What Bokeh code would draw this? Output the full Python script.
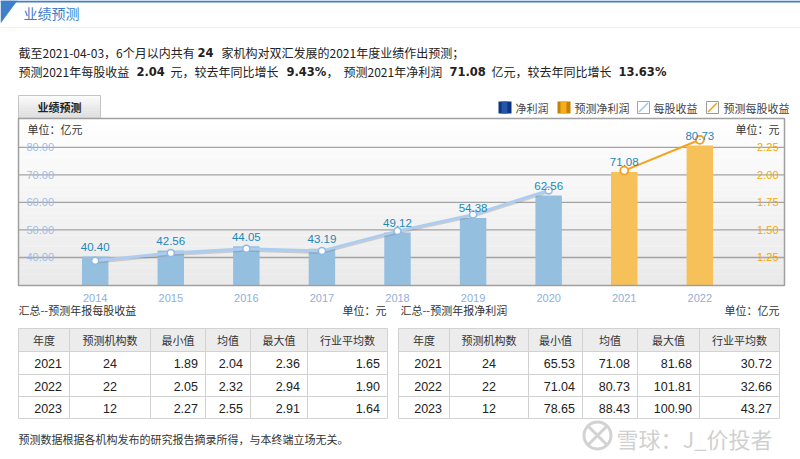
import numpy as np
from bokeh.plotting import figure
from bokeh.models import Range1d
from bokeh.core.properties import value
from bokeh.embed import file_html
from bokeh.resources import INLINE

# ---------------- data ----------------
years = [2014, 2015, 2016, 2017, 2018, 2019, 2020, 2021, 2022]
net_profit = [40.40, 42.56, 44.05, 43.19, 49.12, 54.38, 62.56, 71.08, 80.73]
eps = [1.22, 1.29, 1.33, 1.31, 1.49, 1.64, 1.86, 2.04, 2.32]
n_hist = 7  # 2014-2020 actual, 2021-2022 forecast
profit_ticks = [40, 50, 60, 70, 80]
eps_ticks = [1.25, 1.50, 1.75, 2.00, 2.25]

summary_orgs = 24
summary_eps = 2.04
summary_eps_growth = 9.43
summary_np = 71.08
summary_np_growth = 13.63

table_head = ["年度", "预测机构数", "最小值", "均值", "最大值", "行业平均数"]
fc_years = ["2021", "2022", "2023"]
eps_count = [24, 22, 12]
eps_min = [1.89, 2.05, 2.27]
eps_mean = [2.04, 2.32, 2.55]
eps_max = [2.36, 2.94, 2.91]
eps_ind = [1.65, 1.90, 1.64]
np_count = [24, 22, 12]
np_min = [65.53, 71.04, 78.65]
np_mean = [71.08, 80.73, 88.43]
np_max = [81.68, 101.81, 100.90]
np_ind = [30.72, 32.66, 43.27]

# ---------------- styles ----------------
CJK = value("Noto Sans CJK SC")
NUM = value("Liberation Sans")
BOLDF = value("DejaVu Sans")
TXT = "#222222"

W, H = 800, 459
p = figure(width=W, height=H, x_range=Range1d(0, W), y_range=Range1d(H, 0),
           output_backend="svg", toolbar_location=None, x_axis_type=None, y_axis_type=None,
           min_border=0, min_border_left=0, min_border_right=0, min_border_top=0, min_border_bottom=0,
           outline_line_color=None, background_fill_color="white", border_fill_color="white")


def txt(x, y, s, size="12px", color=TXT, font=CJK, align="left", style="normal", base="middle"):
    p.text(x=[x], y=[y], text=[s], text_font=font, text_font_size=size, text_color=color,
           text_align=align, text_baseline=base, text_font_style=style)


# ---------------- header ----------------
p.segment(x0=[0], x1=[800], y0=[1], y1=[1], line_color="#3f7fc8", line_width=2)
p.patch(x=[0, 17, 0], y=[0, 0, 23], fill_color="#3f7fc8", line_color=None)
txt(23, 12.5, "业绩预测", size="14px", color="#3d7dca")
p.segment(x0=[0], x1=[800], y0=[27], y1=[27], line_color="#f0f0f0", line_width=1)

# summary lines
txt(18, 52, "截至2021-04-03，6个月以内共有")
txt(197, 52, f"{summary_orgs}", size="11.5px", font=BOLDF, style="bold")
txt(221, 52, "家机构对双汇发展的2021年度业绩作出预测；")
txt(18, 71, "预测2021年每股收益")
txt(136, 71, f"{summary_eps:.2f}", size="11.5px", font=BOLDF, style="bold")
txt(170, 71, "元，较去年同比增长")
txt(286, 71, f"{summary_eps_growth:.2f}%", size="11.5px", font=BOLDF, style="bold")
txt(326, 71, "，")
txt(343, 71, "预测2021年净利润")
txt(449, 71, f"{summary_np:.2f}", size="11.5px", font=BOLDF, style="bold")
txt(491, 71, "亿元，较去年同比增长")
txt(618, 71, f"{summary_np_growth:.2f}%", size="11.5px", font=BOLDF, style="bold")

# tab button
tab_n = 12
tb = np.linspace(95, 118, tab_n + 1)
tab_cols = ["#%02x%02x%02x" % (int(c), int(c), int(c)) for c in np.linspace(252, 218, tab_n)]
p.quad(left=18, right=100, top=tb[:-1], bottom=tb[1:], fill_color=tab_cols, line_color=None)
p.quad(left=[18], right=[100], top=[95], bottom=[118], fill_color=None, line_color="#c4c4c4")
txt(59, 106.5, "业绩预测", size="11px", color="#222", align="center", style="bold")

# legend
p.quad(left=[498], right=[511], top=[101], bottom=[113], fill_color="#0d3482", line_color=None)
p.quad(left=[501], right=[507], top=[101], bottom=[113], fill_color="#2455a8", line_color=None)
txt(515, 107, "净利润", size="11px", color="#444")
p.quad(left=[557], right=[570], top=[101], bottom=[113], fill_color="#c88000", line_color=None)
p.quad(left=[560], right=[566], top=[101], bottom=[113], fill_color="#f2ad20", line_color=None)
txt(574, 107, "预测净利润", size="11px", color="#444")
p.quad(left=[637], right=[649], top=[101], bottom=[113], fill_color="white", line_color="#9aa6b8")
p.segment(x0=[638.5], y0=[111.5], x1=[647.5], y1=[102.5], line_color="#9cc3ee", line_width=1.5)
txt(653, 107, "每股收益", size="11px", color="#444")
p.quad(left=[706], right=[718], top=[101], bottom=[113], fill_color="white", line_color="#9a9a9a")
p.segment(x0=[707.5], y0=[111.5], x1=[716.5], y1=[102.5], line_color="#f5a000", line_width=1.5)
txt(723, 107, "预测每股收益", size="11px", color="#444")

# ---------------- chart ----------------
BOX_L, BOX_R, BOX_T, BOX_B = 18, 784, 118, 285
bg_n = 30
bb = np.linspace(BOX_T, BOX_B, bg_n + 1)
bg_cols = ["#%02x%02x%02x" % (int(c), int(c), int(c)) for c in np.linspace(255, 234, bg_n)]
p.quad(left=BOX_L, right=BOX_R, top=bb[:-1], bottom=bb[1:], fill_color=bg_cols, line_color=None)

x_src = Range1d(2013, 2023)
x_tgt = Range1d(19.1, 774.9)
px_src = Range1d(0, W)
px_tgt = Range1d(0, W)
np_src = Range1d(30, 90.5)
eps_src = Range1d(1.0, 2.5136)
y_tgt = Range1d(284.5, 118)
y_tgt_shadow = Range1d(286.5, 120)

sp_np = p.subplot(x_source=x_src, y_source=np_src, x_target=x_tgt, y_target=y_tgt)
sp_eps = p.subplot(x_source=x_src, y_source=eps_src, x_target=x_tgt, y_target=y_tgt)
sp_eps_sh = p.subplot(x_source=x_src, y_source=eps_src, x_target=x_tgt, y_target=y_tgt_shadow)
sp_np_px = p.subplot(x_source=px_src, y_source=np_src, x_target=px_tgt, y_target=y_tgt)
sp_eps_px = p.subplot(x_source=px_src, y_source=eps_src, x_target=px_tgt, y_target=y_tgt)

# gridlines + tick labels
sp_np_px.segment(x0=BOX_L, x1=BOX_R, y0=profit_ticks, y1=profit_ticks, line_color="#a3a3a3", line_width=1.3)
sp_np_px.text(x=26, y=profit_ticks, text=[f"{t:.2f}" for t in profit_ticks], text_font=NUM,
              text_font_size="11px", text_color="#9dbde6", text_baseline="middle", text_align="left")
sp_eps_px.text(x=778, y=eps_ticks, text=[f"{t:.2f}" for t in eps_ticks], text_font=NUM,
               text_font_size="11px", text_color="#f7a800", text_baseline="middle", text_align="right")

# bars
bar_cols = ["#95bfdf"] * n_hist + ["#f5c158"] * (len(years) - n_hist)
sp_np.vbar(x=years, top=net_profit, bottom=np_src.start, width=0.35, fill_color=bar_cols, line_color=None)

# eps lines
sp_eps_sh.line(x=years[:n_hist], y=eps[:n_hist], line_color="#777777", line_alpha=0.3, line_width=2)
sp_eps.line(x=years[:n_hist], y=eps[:n_hist], line_color="#accdf0", line_width=3)
sp_eps.line(x=years[n_hist:], y=eps[n_hist:], line_color="#f5a31a", line_width=2)
sp_eps.scatter(x=years[:n_hist], y=eps[:n_hist], marker="circle", size=7, fill_color="white",
               line_color="#8fb8e8", line_width=1.5)
sp_eps.scatter(x=years[n_hist:], y=eps[n_hist:], marker="circle", size=8, fill_color="white",
               line_color="#f0a020", line_width=1.8)

# bar value labels
sp_np.text(x=years, y=net_profit, text=[f"{v:.2f}" for v in net_profit], y_offset=-9.5,
           text_font=NUM, text_font_size="11.5px", text_color="#1d87b9", text_align="center",
           text_baseline="middle")

# x labels
sp_np.text(x=years, y=np_src.start, text=[str(y) for y in years], y_offset=13, text_font=NUM,
           text_font_size="11px", text_color="#8fb0dd", text_align="center", text_baseline="middle")

# units
txt(27, 128, "单位：亿元", size="11px", color="#333")
txt(779, 128, "单位：元", size="11px", color="#333", align="right")

# box border
p.quad(left=[BOX_L], right=[BOX_R], top=[BOX_T], bottom=[BOX_B], fill_color=None,
       line_color="#a0a0a0", line_width=1.5)

# ---------------- tables ----------------
ROWS = [328, 351, 374, 396, 418]


def draw_table(xe, cols, fmts):
    p.quad(left=[xe[0]], right=[xe[-1]], top=[ROWS[0]], bottom=[ROWS[1]], fill_color="#ececec", line_color=None)
    p.segment(x0=xe[0], x1=xe[-1], y0=ROWS, y1=ROWS, line_color="#d2d2d2", line_width=1)
    p.segment(x0=xe, x1=xe, y0=ROWS[0], y1=ROWS[-1], line_color="#d2d2d2", line_width=1)
    hy = (ROWS[0] + ROWS[1]) / 2
    p.text(x=[(xe[i] + xe[i + 1]) / 2 for i in range(6)], y=hy, text=table_head, text_font=CJK,
           text_font_size="11px", text_color="#333", text_align="center", text_baseline="middle")
    ry = [(ROWS[i] + ROWS[i + 1]) / 2 + 0.5 for i in range(1, 4)]
    for ci, (col, fmt) in enumerate(zip(cols, fmts)):
        labels = [fmt.format(v) for v in col]
        if ci == 1:
            xx, al = (xe[1] + xe[2]) / 2, "center"
        else:
            xx, al = xe[ci + 1] - 7.5, "right"
        p.text(x=xx, y=ry, text=labels, text_font=NUM, text_font_size="12.5px", text_color="#222",
               text_align=al, text_baseline="middle")


txt(18, 309, "汇总--预测年报每股收益", size="11px", color="#333")
txt(386, 309, "单位：元", size="11px", color="#333", align="right")
draw_table([18, 69, 150, 205, 250, 307, 387],
           [fc_years, eps_count, eps_min, eps_mean, eps_max, eps_ind],
           ["{}", "{}", "{:.2f}", "{:.2f}", "{:.2f}", "{:.2f}"])

txt(400, 309, "汇总--预测年报净利润", size="11px", color="#333")
txt(779, 309, "单位：亿元", size="11px", color="#333", align="right")
draw_table([398, 449, 528, 582, 637, 699, 779],
           [fc_years, np_count, np_min, np_mean, np_max, np_ind],
           ["{}", "{}", "{:.2f}", "{:.2f}", "{:.2f}", "{:.2f}"])

txt(18, 438, "预测数据根据各机构发布的研究报告摘录所得，与本终端立场无关。", size="11px", color="#333")

# watermark
p.scatter(x=[597], y=[435], marker="circle_x", size=27, fill_color=None, line_color="#d2d2d2", line_width=3)
txt(616, 437, "雪球：J_价投者", size="22px", color="#d0d0d0")

open("out.html", "w").write(file_html(p, INLINE))
